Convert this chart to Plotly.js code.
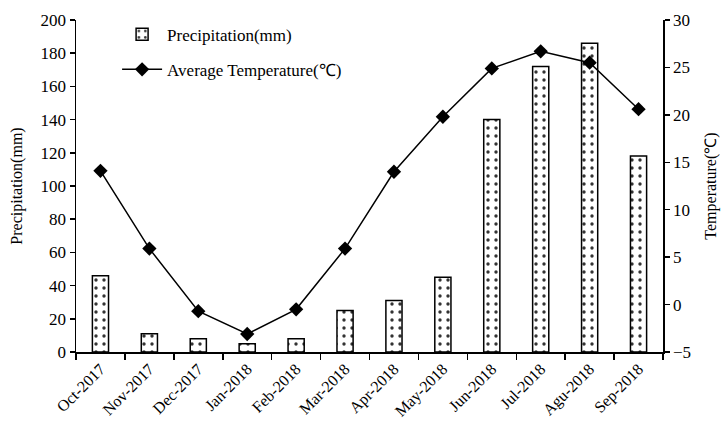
<!DOCTYPE html>
<html><head><meta charset="utf-8">
<script src="https://cdn.plot.ly/plotly-3.0.1.min.js"></script>
<style>body{margin:0;background:#fff}#c{width:722px;height:422px}</style>
</head><body><div id="c"></div>
<script>
const months = ["Oct-2017","Nov-2017","Dec-2017","Jan-2018","Feb-2018","Mar-2018","Apr-2018","May-2018","Jun-2018","Jul-2018","Agu-2018","Sep-2018"];
const precipitation = [46, 11, 8, 5, 8, 25, 31, 45, 140, 172, 186, 118];
const temperature = [14.1, 5.9, -0.7, -3.1, -0.5, 5.9, 14.0, 19.8, 24.9, 26.7, 25.5, 20.6];

const font = {family: "Liberation Serif, Times New Roman, serif", size: 17, color: "#000"};

const traces = [
  {
    type: "bar", x: months, y: precipitation, name: "Precipitation(mm)",
    legendgroup: "a",
    width: 0.33,
    marker: {color: "#fff", line: {color: "#000", width: 1.5},
      pattern: {shape: ".", fgcolor: "#333", bgcolor: "#fff", size: 8, solidity: 0.14}},
    yaxis: "y"
  },
  {
    type: "scatter", mode: "lines+markers", x: months, y: temperature,
    name: "Average Temperature(\u2103)", legendgroup: "b",
    line: {color: "#000", width: 1.5},
    marker: {symbol: "diamond", size: 11, color: "#000"},
    yaxis: "y2"
  }
];

const layout = {
  width: 722, height: 422,
  margin: {l: 76, r: 59, t: 20, b: 70},
  paper_bgcolor: "#fff", plot_bgcolor: "#fff",
  font: font,
  showlegend: true,
  legend: {x: 0.07, y: 1.01, xanchor: "left", yanchor: "top", bgcolor: "rgba(0,0,0,0)",
    font: {size: 17}, tracegroupgap: 10, itemwidth: 40},
  xaxis: {
    type: "category", range: [-0.5, 11.5], showline: true, linecolor: "#000", linewidth: 1.5,
    ticks: "outside", tickson: "boundaries", ticklen: 6, tickcolor: "#000", tickwidth: 1.5,
    tickangle: -45, showgrid: false, zeroline: false, tickfont: {size: 16}
  },
  yaxis: {
    range: [0, 200], dtick: 20, showline: true, linecolor: "#000", linewidth: 1.5,
    ticks: "outside", ticklen: 5, tickcolor: "#000", tickwidth: 1.5,
    showgrid: false, zeroline: false, tickfont: {size: 17},
    title: {text: "Precipitation(mm)", font: {size: 16}, standoff: 14}
  },
  yaxis2: {
    range: [-5, 30], dtick: 5, overlaying: "y", side: "right",
    showline: true, linecolor: "#000", linewidth: 1.5,
    ticks: "outside", ticklen: 5, tickcolor: "#000", tickwidth: 1.5,
    showgrid: false, zeroline: false, tickfont: {size: 17},
    title: {text: "Temperature(\u2103)", font: {size: 16}, standoff: 15}
  }
};
Plotly.newPlot("c", traces, layout, {displayModeBar: false, staticPlot: true});
</script></body></html>
